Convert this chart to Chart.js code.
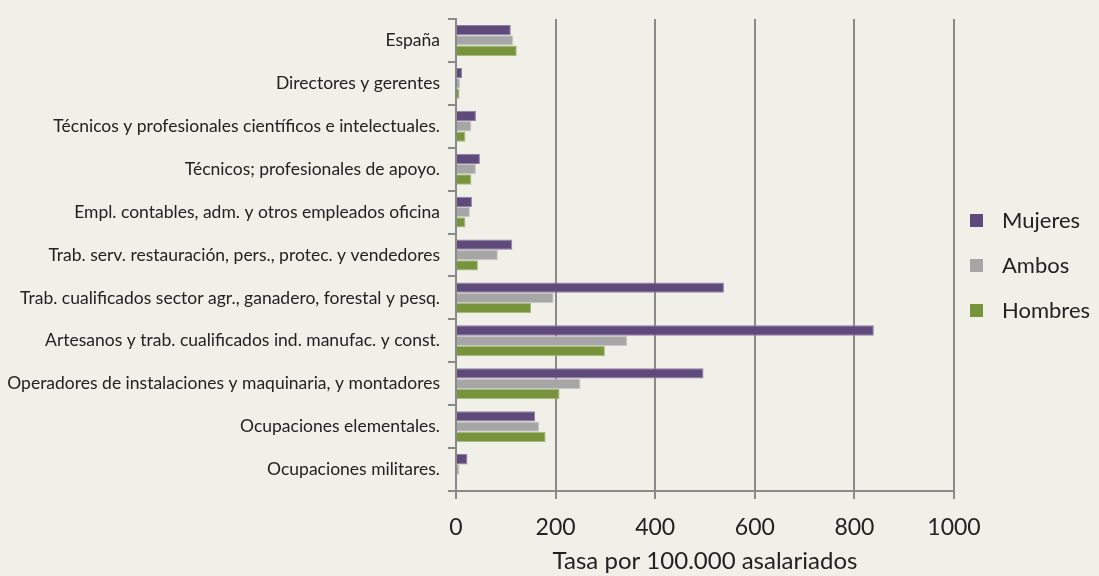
<!DOCTYPE html>
<html lang="es">
<head>
<meta charset="UTF-8">
<title>Tasa por 100.000 asalariados</title>
<script src="https://cdn.jsdelivr.net/npm/chart.js"></script>
<style>
    html, body { margin: 0; padding: 0; background: #f0f0e8; }
    #wrap { width: 1099px; height: 576px; }
</style>
</head>
<body>
<div id="wrap"><canvas id="grafico" width="1099" height="576"></canvas></div>
<script>
    // categorías (de arriba abajo)
    const categorias = [
        'España',
        'Directores y gerentes',
        'Técnicos y profesionales científicos e intelectuales.',
        'Técnicos; profesionales de apoyo.',
        'Empl. contables, adm. y otros empleados oficina',
        'Trab. serv. restauración, pers., protec. y vendedores',
        'Trab. cualificados sector agr., ganadero, forestal y pesq.',
        'Artesanos y trab. cualificados ind. manufac. y const.',
        'Operadores de instalaciones y maquinaria, y montadores',
        'Ocupaciones elementales.',
        'Ocupaciones militares.'
    ];
    const mujeres = [110, 12, 40, 48, 32, 113, 538, 839, 497, 159, 23];
    const ambos   = [115, 8, 31, 40, 28, 84, 196, 344, 250, 167, 7];
    const hombres = [122, 7, 19, 31, 19, 44, 151, 299, 208, 180, 2];
    const ticksX = [0, 200, 400, 600, 800, 1000];
    const tituloX = 'Tasa por 100.000 asalariados';

    const gris = '#8a8a8a';
    const fuente = "Lato, 'Open Sans', sans-serif";

    // leyenda dibujada a mano, a la derecha
    const leyenda = {
        id: 'leyenda',
        afterDraw(chart) {
            const ctx = chart.ctx;
            ctx.save();
            ctx.font = '22px ' + fuente;
            ctx.textBaseline = 'middle';
            chart.data.datasets.forEach((ds, i) => {
                const y = 220 + i * 45;
                ctx.fillStyle = ds.backgroundColor;
                ctx.fillRect(970, y - 6, 13, 13);
                ctx.fillStyle = '#222';
                ctx.fillText(ds.label, 1002, y + 1);
            });
            ctx.restore();
        }
    };

    const ctx = document.getElementById('grafico').getContext('2d');
    new Chart(ctx, {
        type: 'bar',
        data: {
            labels: categorias,
            datasets: [
                { label: 'Mujeres', data: mujeres, backgroundColor: '#5f4a7b', borderColor: '#8f80a6' },
                { label: 'Ambos', data: ambos, backgroundColor: '#a6a6a6', borderColor: '#c8c8c8' },
                { label: 'Hombres', data: hombres, backgroundColor: '#77933c', borderColor: '#a6bb7c' }
            ]
        },
        options: {
            indexAxis: 'y',
            responsive: false,
            animation: false,
            devicePixelRatio: 1,
            layout: { padding: { top: 19, right: 145, left: 0, bottom: 0 } },
            datasets: {
                bar: { categoryPercentage: 0.72, barPercentage: 1.0, borderWidth: 1, borderSkipped: 'left' }
            },
            plugins: {
                legend: { display: false },
                tooltip: { enabled: false }
            },
            scales: {
                x: {
                    min: 0,
                    max: 1000,
                    afterBuildTicks(scale) {
                        scale.ticks = ticksX.map(v => ({ value: v }));
                    },
                    afterFit(scale) { scale.height = 85; },
                    grid: { color: gris, lineWidth: 2, tickLength: 8, drawTicks: true },
                    border: { display: true, color: gris, width: 2 },
                    ticks: {
                        color: '#222', font: { family: fuente, size: 23 }, padding: 15,
                        callback: v => String(v)
                    },
                    title: { display: true, text: tituloX, color: '#222', font: { family: fuente, size: 24 }, padding: { top: 0, bottom: 0 } }
                },
                y: {
                    afterFit(scale) { scale.width = 456; },
                    grid: { offset: true, drawOnChartArea: false, color: gris, lineWidth: 2, tickLength: 8 },
                    border: { display: true, color: gris, width: 2 },
                    ticks: { color: '#222', font: { family: fuente, size: 17.5 }, padding: 8 }
                }
            }
        },
        plugins: [leyenda]
    });
</script>
</body>
</html>
